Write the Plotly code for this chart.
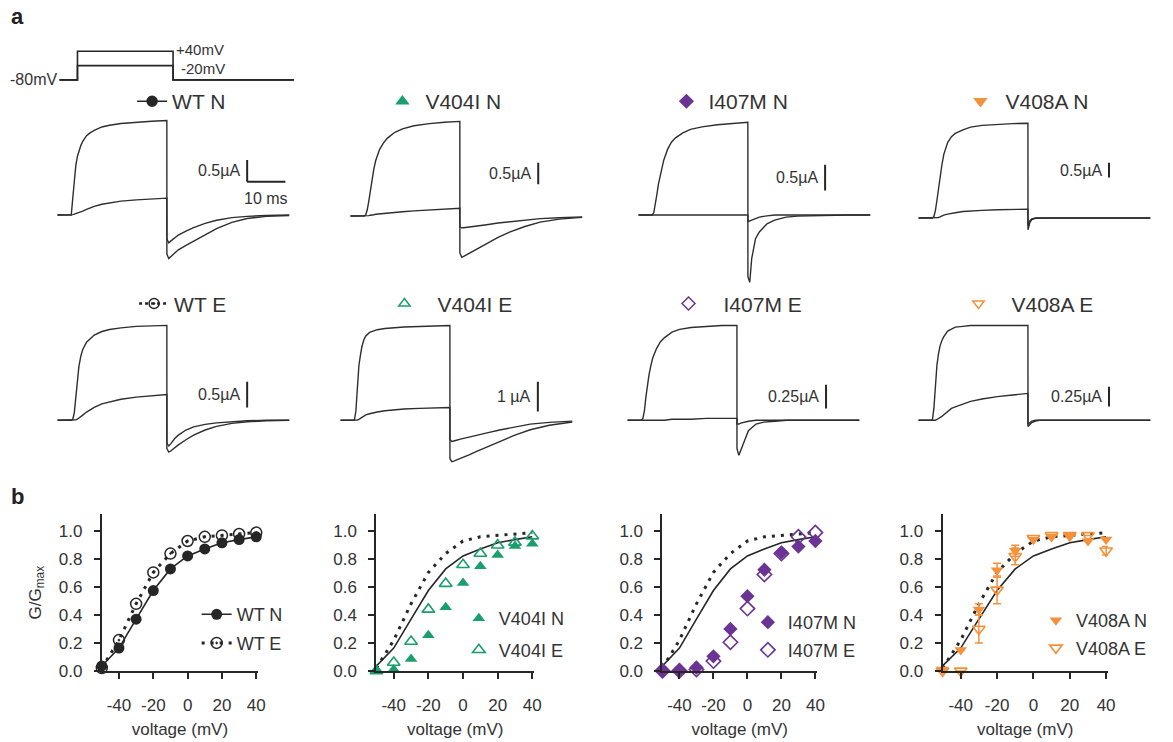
import plotly.graph_objects as go

W, H = 1173, 742
FONT = "Liberation Sans, Arial, Helvetica, sans-serif"
TXT = "#333333"
INK = "#262626"
GREEN = "#1b9e6e"
PURPLE = "#6b3394"
ORANGE = "#f5913b"

# ---------------- panel a : current traces (ms from pulse onset, µA) ----------------
T_MS = [-3.6, 0, 0.4, 0.8, 1.2, 1.6, 2, 2.5, 3, 4, 5, 6, 8, 10, 13, 17, 21, 25,
        25.01, 25.5, 26, 27, 28, 30, 32, 35, 38, 42, 46, 51, 57]

WT_N_P40 = [0, 0, 0.4, 0.88, 1.15, 1.35, 1.47, 1.6, 1.7, 1.83, 1.9, 1.95, 2.03, 2.07, 2.11, 2.14, 2.16, 2.18,
            -0.9, -1.0, -0.96, -0.88, -0.8, -0.7, -0.6, -0.45, -0.31, -0.17, -0.08, -0.03, -0.01]
WT_N_M20 = [0, 0, 0.01, 0.02, 0.03, 0.04, 0.05, 0.07, 0.09, 0.13, 0.17, 0.2, 0.25, 0.28, 0.32, 0.35, 0.37, 0.39,
            -0.55, -0.64, -0.6, -0.52, -0.46, -0.37, -0.29, -0.19, -0.12, -0.06, -0.03, -0.01, 0]
V404I_N_P40 = [0, 0, 0.03, 0.15, 0.35, 0.6, 0.85, 1.08, 1.28, 1.53, 1.68, 1.79, 1.93, 2.01, 2.08, 2.13, 2.16, 2.18,
               -0.85, -0.95, -0.93, -0.88, -0.83, -0.73, -0.63, -0.49, -0.37, -0.24, -0.14, -0.07, -0.03]
V404I_N_M20 = [0, 0, 0, 0.01, 0.01, 0.02, 0.02, 0.03, 0.04, 0.05, 0.06, 0.07, 0.09, 0.1, 0.12, 0.14, 0.16, 0.18,
               -0.25, -0.27, -0.27, -0.26, -0.25, -0.23, -0.2, -0.16, -0.13, -0.09, -0.06, -0.04, -0.02]
I407M_N_P40 = [0, 0, 0.05, 0.2, 0.4, 0.6, 0.75, 0.92, 1.07, 1.28, 1.42, 1.5, 1.6, 1.67, 1.72, 1.76, 1.79, 1.81,
               -1.2, -1.31, -0.85, -0.46, -0.33, -0.17, -0.1, -0.04, -0.02, -0.01, 0, 0, 0]
I407M_N_M20 = [0, 0, 0, 0, 0, 0, 0, 0, 0, 0, 0, 0, 0, 0, 0, 0, 0, 0,
               -0.13, -0.12, -0.1, -0.07, -0.04, -0.015, 0, 0, 0, 0, 0, 0, 0]
V408A_N_P40 = [0, 0, 0.05, 0.25, 0.6, 1.0, 1.4, 1.8, 2.15, 2.55, 2.75, 2.86, 2.98, 3.07, 3.13, 3.17, 3.19, 3.2,
               -0.4, -0.15, -0.05, -0.01, 0, 0, 0, 0, 0, 0, 0, 0, 0]
V408A_N_M20 = [0, 0, 0, 0, 0.01, 0.02, 0.04, 0.07, 0.1, 0.13, 0.16, 0.18, 0.22, 0.24, 0.26, 0.28, 0.29, 0.3,
               -0.25, -0.1, -0.03, 0, 0, 0, 0, 0, 0, 0, 0, 0, 0]
WT_E_P40 = [0, 0, 0.02, 0.15, 0.45, 0.8, 1.05, 1.25, 1.38, 1.52, 1.6, 1.66, 1.73, 1.77, 1.8, 1.83, 1.84, 1.85,
            -0.55, -0.62, -0.6, -0.54, -0.48, -0.38, -0.29, -0.19, -0.12, -0.06, -0.03, -0.01, 0]
WT_E_M20 = [0, 0, 0, 0, 0.01, 0.02, 0.04, 0.07, 0.1, 0.16, 0.21, 0.25, 0.32, 0.36, 0.41, 0.45, 0.48, 0.5,
            -0.45, -0.5, -0.46, -0.36, -0.29, -0.19, -0.13, -0.08, -0.05, -0.03, -0.01, 0, 0]
V404I_E_P40 = [0, 0, 0.3, 1.1, 1.85, 2.2, 2.5, 2.72, 2.85, 2.97, 3.02, 3.06, 3.1, 3.13, 3.15, 3.17, 3.19, 3.2,
               -1.3, -1.4, -1.38, -1.33, -1.28, -1.17, -1.05, -0.88, -0.7, -0.5, -0.32, -0.17, -0.06]
V404I_E_M20 = [0, 0, 0, 0.01, 0.03, 0.06, 0.1, 0.14, 0.18, 0.22, 0.26, 0.28, 0.32, 0.35, 0.38, 0.4, 0.42, 0.43,
               -0.65, -0.72, -0.7, -0.66, -0.63, -0.57, -0.5, -0.42, -0.33, -0.22, -0.13, -0.07, -0.03]
I407M_E_P40 = [0, 0, 0.02, 0.1, 0.25, 0.38, 0.48, 0.58, 0.66, 0.76, 0.83, 0.87, 0.93, 0.96, 0.98, 0.99, 1.0, 1.0,
               -0.3, -0.37, -0.32, -0.2, -0.11, -0.04, -0.02, -0.01, 0, 0, 0, 0, 0]
I407M_E_M20 = [0, 0, 0, 0, 0, 0, 0, 0, 0, 0, 0, 0, 0.01, 0.01, 0.01, 0.02, 0.02, 0.02,
               -0.04, -0.04, -0.03, -0.02, -0.01, 0, 0, 0, 0, 0, 0, 0, 0]
V408A_E_P40 = [0, 0, 0.15, 0.5, 0.7, 0.84, 0.94, 1.01, 1.06, 1.13, 1.16, 1.18, 1.19, 1.2, 1.2, 1.2, 1.2, 1.2,
               -0.08, -0.06, -0.03, -0.01, 0, 0, 0, 0, 0, 0, 0, 0, 0]
V408A_E_M20 = [0, 0, 0, 0, 0.01, 0.02, 0.03, 0.05, 0.07, 0.11, 0.15, 0.17, 0.21, 0.24, 0.27, 0.3, 0.32, 0.34,
               -0.05, -0.03, -0.01, 0, 0, 0, 0, 0, 0, 0, 0, 0, 0]

SCALE_UA = [0.5, 0.5, 0.5, 0.5, 0.5, 1.0, 0.25, 0.25]
SCALE_LABELS = ["0.5µA", "0.5µA", "0.5µA", "0.5µA", "0.5µA", "1 µA", "0.25µA", "0.25µA"]
TIME_BAR_MS = 10

# voltage protocol
PROT_T = [-4.7, 0, 0, 25, 25, 56.6]
PROT_V_P40 = [-80, -80, 40, 40, -80, -80]
PROT_V_M20 = [-80, -80, -20, -20, -80, -80]

# ---------------- panel b : G/Gmax ----------------
VOLT = [-50, -40, -30, -20, -10, 0, 10, 20, 30, 40]
VOLT_TICKS = [-40, -20, 0, 20, 40]
VOLT_TICKTEXT = ["-40", "-20", "0", "20", "40"]
G_TICKS = [0, 0.2, 0.4, 0.6, 0.8, 1.0]
G_WT_N = [0.035, 0.163, 0.37, 0.575, 0.73, 0.823, 0.873, 0.917, 0.94, 0.96]
G_WT_E = [0.02, 0.22, 0.48, 0.705, 0.84, 0.93, 0.96, 0.97, 0.98, 0.99]
G_V404I_N = [0.0, 0.01, 0.085, 0.255, 0.455, 0.63, 0.75, 0.83, 0.895, 0.91]
G_V404I_E = [0.0, 0.06, 0.21, 0.44, 0.625, 0.76, 0.84, 0.9, 0.92, 0.965]
G_I407M_N = [0.0, 0.005, 0.024, 0.104, 0.3, 0.535, 0.724, 0.847, 0.89, 0.93]
G_I407M_E = [0.0, 0.0, 0.01, 0.07, 0.205, 0.446, 0.69, 0.84, 0.96, 0.99]
G_V408A_N = [0.01, 0.15, 0.44, 0.72, 0.86, 0.94, 0.96, 0.97, 0.93, 0.94]
G_V408A_N_ERR = [0, 0, 0.04, 0.05, 0.04, 0, 0, 0, 0, 0]
G_V408A_E = [0.0, 0.0, 0.3, 0.58, 0.82, 0.95, 0.97, 0.97, 0.97, 0.86]
G_V408A_E_ERR = [0, 0, 0.1, 0.1, 0.06, 0, 0, 0, 0, 0.03]

# ---------------- layout helpers ----------------
PXMS = 3.85  # px per ms


def px(x):
    return x / W


def py(y):
    return 1 - y / H


fig = go.Figure()
layout = dict(width=W, height=H, margin=dict(l=0, r=0, t=0, b=0),
              paper_bgcolor="white", plot_bgcolor="white",
              font=dict(family=FONT, color=TXT), annotations=[], shapes=[])


def add_axes(k, xdom, ydom, xr, yr, visible=False):
    s = "" if k == 1 else str(k)
    base = dict(visible=visible, showgrid=False, zeroline=False, fixedrange=True)
    layout["xaxis" + s] = dict(base, domain=xdom, range=xr, anchor="y" + s)
    layout["yaxis" + s] = dict(base, domain=ydom, range=yr, anchor="x" + s)
    return "x" + s, "y" + s


panels_a = [
    # big trace, small trace, onset px, row, baseline px, px/µA, bar t, bar bottom
    (WT_N_P40, WT_N_M20, 71.75, 1, 218, 44, 46.0, 0.77),
    (V404I_N_P40, V404I_N_M20, 366.75, 1, 219, 44, 45.5, 0.73),
    (I407M_N_P40, I407M_N_M20, 656.75, 1, 218, 52, 45.2, 0.48),
    (V408A_N_P40, V408A_N_M20, 938.75, 1, 221, 30, 46.2, 1.37),
    (WT_E_P40, WT_E_M20, 71.75, 2, 426, 52, 46.0, 0.25),
    (V404I_E_P40, V404I_E_M20, 356.75, 2, 426, 30, 48.0, 0.30),
    (I407M_E_P40, I407M_E_M20, 645.75, 2, 426, 96, 48.3, 0.125),
    (V408A_E_P40, V408A_E_M20, 938.75, 2, 426, 80, 46.2, 0.175),
]
ROW_PX = {1: (112, 292), 2: (318, 472)}

for k, (big, small, onset, row, base, s, bar_t, bar_v) in enumerate(panels_a, start=1):
    top, bot = ROW_PX[row]
    xdom = [px(onset - 5 * PXMS), px(onset + 60 * PXMS)]
    ydom = [py(bot), py(top)]
    yr = [(base - bot) / s, (base - top) / s]
    xa, ya = add_axes(k, xdom, ydom, [-5, 60], yr)
    for ser in (small, big):
        fig.add_trace(go.Scatter(x=T_MS, y=ser, xaxis=xa, yaxis=ya, mode="lines",
                                 line=dict(color="#2e2e2e", width=1.4), showlegend=False,
                                 hoverinfo="skip"))
    layout["shapes"].append(dict(type="line", xref=xa, yref=ya, x0=bar_t, x1=bar_t,
                                 y0=bar_v, y1=bar_v + SCALE_UA[k - 1],
                                 line=dict(color=INK, width=2)))
    layout["annotations"].append(dict(xref=xa, yref=ya, x=bar_t, y=bar_v + SCALE_UA[k - 1] / 2,
                                      text=SCALE_LABELS[k - 1], showarrow=False, xanchor="right",
                                      yanchor="middle", xshift=-5, font=dict(size=16, color=TXT)))
    if k == 1:
        layout["shapes"].append(dict(type="line", xref=xa, yref=ya, x0=bar_t, x1=bar_t + TIME_BAR_MS,
                                     y0=bar_v, y1=bar_v, line=dict(color=INK, width=2)))
        layout["annotations"].append(dict(xref=xa, yref=ya, x=bar_t + TIME_BAR_MS / 2, y=bar_v,
                                          text="10 ms", showarrow=False, xanchor="center",
                                          yanchor="top", yshift=-6, font=dict(size=16, color=TXT)))

# voltage protocol axes (k = 9)
xa, ya = add_axes(9, [px(78 - 5 * PXMS), px(78 + 60 * PXMS)], [py(88), py(45)], [-5, 60], [-109, 69])
for vv in (PROT_V_M20, PROT_V_P40):
    fig.add_trace(go.Scatter(x=PROT_T, y=vv, xaxis=xa, yaxis=ya, mode="lines",
                             line=dict(color=INK, width=1.6), showlegend=False, hoverinfo="skip"))
layout["annotations"] += [
    dict(xref=xa, yref=ya, x=PROT_T[0], y=PROT_V_P40[0], text="-80mV", showarrow=False,
         xanchor="right", yanchor="middle", font=dict(size=16, color=TXT)),
    dict(xref=xa, yref=ya, x=PROT_T[3], y=PROT_V_P40[3], text="+40mV", showarrow=False,
         xanchor="left", yanchor="middle", xshift=1, yshift=2, font=dict(size=15, color=TXT)),
    dict(xref=xa, yref=ya, x=PROT_T[3], y=PROT_V_M20[3], text="-20mV", showarrow=False,
         xanchor="left", yanchor="middle", xshift=6, yshift=-3, font=dict(size=15, color=TXT)),
]

# ---------------- legends ----------------
legend_count = [0]


def new_legend(text_x_px, y_px, size, itemwidth=30):
    legend_count[0] += 1
    n = legend_count[0]
    key = "legend" if n == 1 else f"legend{n}"
    layout[key] = dict(x=px(text_x_px - itemwidth - 10), y=py(y_px), xanchor="left", yanchor="middle",
                       bgcolor="rgba(0,0,0,0)", borderwidth=0, itemwidth=itemwidth,
                       font=dict(size=size, color=TXT, family=FONT),
                       itemclick=False, itemdoubleclick=False)
    return key


HEAD = [
    # name, mode, symbol, colour, dash, text-x px, y px, item width
    ("WT N", "lines+markers", "circle", INK, "solid", 173, 103, 30),
    ("V404I N", "markers", "triangle-up", GREEN, None, 428, 103, 36),
    ("I407M N", "markers", "diamond", PURPLE, None, 713, 103, 34),
    ("V408A N", "markers", "triangle-down", ORANGE, None, 1012, 103, 40),
    ("WT E", "lines+markers", "circle-open-dot", INK, "dot", 175, 308, 30),
    ("V404I E", "markers", "triangle-up-open", GREEN, None, 440, 308, 56),
    ("I407M E", "markers", "diamond-open", PURPLE, None, 728, 308, 60),
    ("V408A E", "markers", "triangle-down-open", ORANGE, None, 1018, 308, 56),
]
for name, mode, sym, col, dash, tx, ty, iw in HEAD:
    lg = new_legend(tx, ty, 21, iw)
    fig.add_trace(go.Scatter(x=[None], y=[None], xaxis="x9", yaxis="y9", mode=mode, name=name,
                             legend=lg, showlegend=True,
                             marker=dict(symbol=sym, size=10, color=col, line=dict(color=col, width=1.5)),
                             line=dict(color=col, width=1.5 if dash == "solid" else 2.5,
                                       dash=dash if dash else "solid")))

# ---------------- panel b ----------------
B_XPX = [(102.5, 1.728), (379, 1.744), (667, 1.711), (949, 1.83)]
B_YPX = (521.5, 680)
DOT = "3px,6px"

b_plots = [
    ("WT", None, None, None, None, INK, "circle", "circle-open-dot", (238, 623, 652)),
    ("V404I", G_V404I_N, G_V404I_E, None, None, GREEN, "triangle-up", "triangle-up-open", (502, 627, 659)),
    ("I407M", G_I407M_N, G_I407M_E, None, None, PURPLE, "diamond", "diamond-open", (793, 631, 659)),
    ("V408A", G_V408A_N, G_V408A_E, G_V408A_N_ERR, G_V408A_E_ERR, ORANGE, "triangle-down",
     "triangle-down-open", (1083, 629, 657)),
]

for j, (mut, gn, ge, en, ee, col, symn, syme, (lx, ly1, ly2)) in enumerate(b_plots):
    k = 10 + j
    s = str(k)
    x0px, ppm = B_XPX[j]
    xdom = [px(x0px), px(x0px + 91 * ppm)]
    ydom = [py(B_YPX[1]), py(B_YPX[0])]
    axstyle = dict(showline=True, linecolor=INK, linewidth=2, ticks="outside", ticklen=6,
                   tickwidth=2, tickcolor=INK, showgrid=False, zeroline=False, fixedrange=True,
                   tickfont=dict(size=17, color=TXT, family=FONT))
    layout["xaxis" + s] = dict(axstyle, domain=xdom, range=[-50, 41], anchor="y" + s,
                               tickmode="array", tickvals=VOLT_TICKS, ticktext=VOLT_TICKTEXT,
                               ticklabelstandoff=12,
                               title=dict(text="voltage (mV)", font=dict(size=17, color=TXT), standoff=9))
    ytitle = dict(text="G/G<sub>max</sub>", font=dict(size=17, color=TXT), standoff=13) if j == 0 else None
    layout["yaxis" + s] = dict(axstyle, domain=ydom, range=[0, 1.12], anchor="x" + s,
                               tickmode="array", tickvals=G_TICKS, tickformat=".1f",
                               ticklabelstandoff=8,
                               **({"title": ytitle} if ytitle else {}))
    xa, ya = "x" + s, "y" + s
    if j == 0:
        fig.add_trace(go.Scatter(x=VOLT, y=G_WT_E, xaxis=xa, yaxis=ya, mode="lines+markers", name="WT E",
                                 legend=new_legend(lx, ly2, 18), cliponaxis=False,
                                 line=dict(color=INK, width=3, dash=DOT),
                                 marker=dict(symbol="circle-open-dot", size=11, color=INK,
                                             line=dict(color=INK, width=1.5))))
        fig.add_trace(go.Scatter(x=VOLT, y=G_WT_N, xaxis=xa, yaxis=ya, mode="lines+markers", name="WT N",
                                 legend=new_legend(lx, ly1, 18), cliponaxis=False,
                                 line=dict(color=INK, width=1.6),
                                 marker=dict(symbol="circle", size=11, color=INK)))
    else:
        fig.add_trace(go.Scatter(x=VOLT, y=G_WT_N, xaxis=xa, yaxis=ya, mode="lines", showlegend=False,
                                 line=dict(color=INK, width=1.6), hoverinfo="skip"))
        fig.add_trace(go.Scatter(x=VOLT, y=G_WT_E, xaxis=xa, yaxis=ya, mode="lines", showlegend=False,
                                 line=dict(color=INK, width=3, dash=DOT), hoverinfo="skip"))
        fig.add_trace(go.Scatter(x=VOLT, y=ge, xaxis=xa, yaxis=ya, mode="markers", name=f"{mut} E",
                                 legend=new_legend(lx, ly2, 18), cliponaxis=False,
                                 error_y=dict(type="data", array=ee, visible=ee is not None,
                                              color=col, thickness=1.5, width=4),
                                 marker=dict(symbol=syme, size=11, color=col, line=dict(color=col, width=1.6))))
        fig.add_trace(go.Scatter(x=VOLT, y=gn, xaxis=xa, yaxis=ya, mode="markers", name=f"{mut} N",
                                 legend=new_legend(lx, ly1, 18), cliponaxis=False,
                                 error_y=dict(type="data", array=en, visible=en is not None,
                                              color=col, thickness=1.5, width=4),
                                 marker=dict(symbol=symn, size=11, color=col)))

# panel letters
layout["annotations"] += [
    dict(xref="paper", yref="paper", x=px(9), y=py(17), text="<b>a</b>", showarrow=False,
         xanchor="left", yanchor="middle", font=dict(size=22, color="#222222")),
    dict(xref="paper", yref="paper", x=px(9), y=py(503), text="<b>b</b>", showarrow=False,
         xanchor="left", yanchor="middle", font=dict(size=22, color="#222222")),
]

fig.update_layout(**layout)
fig.write_html("out.html")
